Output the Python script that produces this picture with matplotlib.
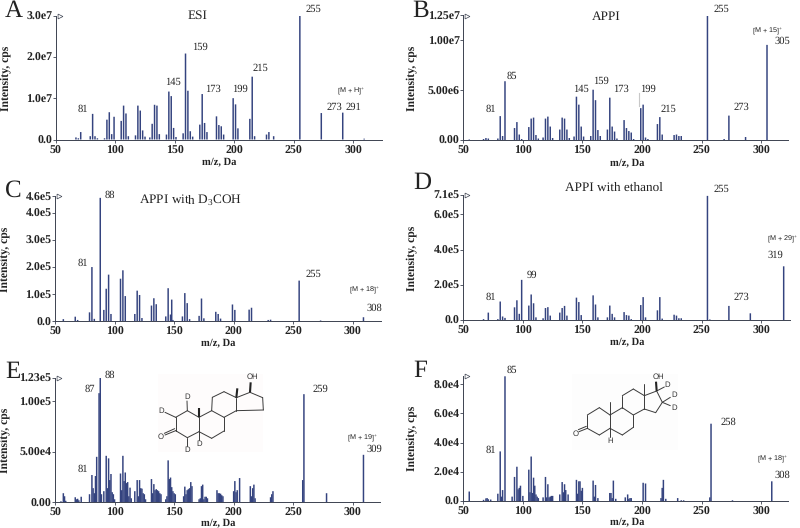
import matplotlib
matplotlib.use('Agg')
from matplotlib import pyplot as plt
from matplotlib.patches import Rectangle

plt.rcParams['font.family'] = ['Liberation Serif', 'DejaVu Serif']
plt.rcParams['mathtext.fontset'] = 'custom'
plt.rcParams['mathtext.rm'] = 'Liberation Serif'
plt.rcParams['text.hinting'] = 'none'

BAR = '#34437f'
AXIS = '#3c4250'
TEXT = '#222222'

# ---- peak lists, m/z and intensity
mz_a = [67, 69, 71, 79, 81, 83, 85, 91, 93, 95, 97, 99, 105, 107, 109, 111, 117, 119, 121, 123, 125, 129, 131, 133, 135, 137, 143, 145, 147, 149, 151, 157, 159, 161, 163, 165, 171, 173, 175, 177, 185, 187, 189, 191, 199, 201, 203, 213, 215, 217, 227, 229, 233, 255, 273, 291, 309]
int_a = [0.05, 0.03, 0.18, 0.08, 0.62, 0.08, 0.03, 0.03, 0.48, 0.66, 0.13, 0.55, 0.45, 0.82, 0.63, 0.08, 0.1, 0.82, 0.7, 0.22, 0.07, 0.05, 0.38, 0.84, 0.82, 0.13, 0.12, 1.16, 1.05, 0.28, 0.06, 0.15, 2.08, 1.18, 0.2, 0.07, 0.36, 1.1, 0.4, 0.18, 0.56, 0.35, 0.32, 0.12, 1.0, 0.85, 0.27, 0.5, 1.52, 0.08, 0.12, 0.18, 0.08, 3.0, 0.64, 0.65, 0.02]

mz_b = [55, 67, 69, 71, 79, 81, 83, 85, 93, 95, 97, 99, 105, 107, 109, 111, 113, 117, 119, 121, 123, 125, 131, 133, 135, 137, 139, 143, 145, 147, 149, 151, 157, 159, 161, 163, 165, 171, 173, 175, 177, 179, 185, 187, 189, 191, 193, 199, 201, 203, 205, 213, 215, 217, 227, 229, 231, 233, 255, 269, 273, 287, 305]
int_b = [0.05, 0.1, 0.2, 0.15, 0.15, 2.4, 0.4, 5.9, 1.2, 1.8, 0.55, 0.1, 1.3, 2.15, 2.25, 0.5, 0.15, 0.25, 2.15, 2.35, 1.35, 0.2, 1.05, 2.25, 2.15, 1.05, 0.2, 0.35, 4.35, 3.55, 1.35, 0.35, 0.4, 5.05, 4.0, 1.0, 0.4, 1.05, 4.25, 1.35, 0.85, 0.15, 2.0, 1.2, 0.9, 0.75, 0.1, 3.2, 3.55, 0.25, 0.1, 1.6, 2.3, 0.55, 0.5, 0.55, 0.4, 0.4, 12.45, 0.1, 2.45, 0.3, 9.55]

mz_c = [57, 67, 69, 79, 81, 83, 88, 91, 93, 95, 97, 105, 107, 109, 117, 119, 121, 123, 131, 133, 135, 143, 145, 147, 148, 149, 157, 159, 161, 163, 171, 173, 175, 185, 187, 189, 199, 201, 213, 215, 229, 231, 255, 273, 309]
int_c = [0.08, 0.17, 0.05, 0.33, 2.0, 0.09, 4.55, 0.42, 1.2, 1.72, 0.27, 1.57, 1.88, 0.93, 0.27, 1.13, 0.97, 0.12, 0.58, 0.85, 0.63, 0.18, 1.22, 0.25, 0.8, 0.05, 0.18, 1.04, 0.67, 0.08, 0.2, 0.84, 0.11, 0.35, 0.27, 0.1, 0.62, 0.42, 0.43, 0.5, 0.05, 0.06, 1.5, 0.03, 0.15]

mz_d = [67, 71, 79, 81, 83, 85, 93, 95, 97, 99, 105, 107, 109, 111, 117, 119, 121, 123, 131, 133, 135, 137, 145, 147, 149, 159, 161, 163, 171, 173, 175, 177, 185, 187, 189, 191, 199, 201, 203, 213, 215, 217, 227, 229, 231, 233, 255, 257, 273, 291, 319]
int_d = [0.05, 0.42, 0.05, 1.05, 0.2, 0.12, 0.72, 1.12, 0.35, 2.28, 0.82, 1.45, 0.95, 0.15, 0.1, 0.68, 0.73, 0.25, 0.42, 0.68, 0.8, 0.25, 1.27, 1.02, 0.28, 1.4, 0.88, 0.15, 0.15, 0.82, 0.35, 0.15, 0.45, 0.28, 0.25, 0.05, 0.85, 1.3, 0.15, 0.55, 1.3, 0.08, 0.3, 0.25, 0.1, 0.1, 7.05, 0.03, 0.8, 0.38, 3.05]

mz_e = [55, 57, 58, 59, 67, 68, 69, 70, 72, 79, 81, 82, 83, 84, 85, 87, 88, 89, 91, 93, 94, 95, 96, 97, 98, 99, 100, 105, 106, 107, 108, 109, 110, 111, 112, 113, 114, 117, 119, 120, 121, 122, 123, 124, 125, 126, 131, 132, 133, 134, 135, 136, 137, 138, 139, 143, 144, 145, 146, 147, 148, 149, 150, 151, 158, 159, 160, 161, 162, 163, 164, 165, 171, 172, 173, 174, 175, 176, 177, 178, 186, 187, 188, 189, 190, 191, 200, 201, 202, 203, 205, 214, 215, 216, 217, 218, 231, 232, 233, 258, 259, 278, 309]
int_e = [0.1, 0.9, 0.6, 0.15, 0.5, 0.3, 0.35, 0.2, 0.55, 0.8, 2.7, 1.4, 0.9, 2.6, 4.5, 10.8, 12.3, 0.8, 1.1, 4.6, 1.4, 4.35, 2.2, 2.8, 1.0, 0.8, 0.3, 2.85, 1.2, 4.6, 2.1, 2.95, 1.9, 2.0, 0.6, 1.45, 0.4, 1.1, 2.2, 0.6, 2.2, 1.4, 1.35, 0.9, 0.8, 0.3, 2.3, 0.9, 1.8, 1.2, 1.3, 1.2, 1.1, 0.9, 0.8, 0.3, 0.6, 4.15, 2.3, 2.45, 1.5, 1.1, 0.9, 0.8, 0.6, 1.55, 0.8, 1.2, 1.3, 1.4, 2.0, 1.6, 0.3, 0.4, 1.6, 1.75, 0.3, 0.55, 0.55, 0.4, 1.2, 0.9, 0.9, 0.85, 0.7, 0.6, 1.1, 2.1, 1.0, 1.2, 2.4, 1.6, 0.6, 1.4, 1.75, 0.4, 0.5, 0.8, 1.1, 2.2, 10.7, 0.9, 4.7]

mz_f = [55, 67, 69, 70, 71, 73, 79, 81, 82, 83, 85, 91, 93, 95, 96, 97, 98, 100, 105, 106, 107, 108, 109, 110, 111, 112, 113, 117, 119, 120, 121, 122, 123, 124, 125, 131, 133, 134, 135, 136, 138, 145, 146, 147, 148, 149, 150, 159, 160, 161, 163, 173, 174, 175, 176, 178, 186, 188, 189, 190, 191, 201, 203, 216, 217, 218, 220, 230, 233, 235, 257, 258, 276, 309]
int_f = [0.65, 0.08, 0.18, 0.2, 0.12, 0.1, 0.5, 3.4, 0.3, 0.75, 8.55, 0.3, 1.65, 2.35, 0.8, 0.9, 1.05, 0.35, 2.15, 0.6, 3.05, 0.55, 1.6, 1.05, 0.45, 0.3, 0.2, 0.25, 1.65, 0.25, 1.15, 0.25, 0.3, 0.35, 0.35, 0.45, 1.3, 0.6, 1.15, 0.75, 0.45, 1.45, 0.5, 1.35, 1.35, 0.7, 0.9, 1.4, 0.3, 1.1, 0.2, 0.55, 0.55, 0.2, 1.4, 0.15, 0.25, 0.45, 0.15, 0.2, 0.2, 1.25, 1.2, 0.2, 0.9, 1.45, 0.15, 0.2, 0.05, 0.05, 0.25, 5.3, 0.05, 1.35]

# ---- axis ticks
xticks = [50, 100, 150, 200, 250, 300]
xlabels = ['50', '100', '150', '200', '250', '300']
yticks_a = [0, 1, 2, 3]
ylabels_a = ['0.0', '1.0e7', '2.0e7', '3.0e7']
yticks_b = [0, 5, 10, 12.5]
ylabels_b = ['0.00', '5.00e6', '1.00e7', '1.25e7']
yticks_c = [0, 1, 2, 3, 4, 4.6]
ylabels_c = ['0.0', '1.0e5', '2.0e5', '3.0e5', '4.0e5', '4.6e5']
yticks_d = [0, 2, 4, 6, 7.1]
ylabels_d = ['0.0', '2.0e5', '4.0e5', '6.0e5', '7.1e5']
yticks_e = [0, 5, 10, 12.3]
ylabels_e = ['0.00', '5.00e4', '1.00e5', '1.23e5']
yticks_f = [0, 2, 4, 6, 8]
ylabels_f = ['0.0', '2.0e4', '4.0e4', '6.0e4', '8.0e4']

# left, right, top, bottom in image pixels, then the y value at the top
panels = [
    (mz_a, int_a, yticks_a, ylabels_a, (55.7, 381.5, 15.5, 139.5), 3.0),
    (mz_b, int_b, yticks_b, ylabels_b, (463.3, 788.0, 15.5, 140.0), 12.5),
    (mz_c, int_c, yticks_c, ylabels_c, (55.0, 380.5, 196.5, 321.3), 4.6),
    (mz_d, int_d, yticks_d, ylabels_d, (463.3, 790.0, 195.0, 320.0), 7.1),
    (mz_e, int_e, yticks_e, ylabels_e, (55.0, 380.0, 378.0, 502.3), 12.3),
    (mz_f, int_f, yticks_f, ylabels_f, (463.3, 788.0, 376.3, 501.0), 8.55),
]

W, H = 800, 528
PX_PER_DA = 1.191

fig = plt.figure(figsize=(W / 100, H / 100), dpi=100)

for mz, vals, yt, yl, box, ytop in panels:
    left, right, top, bottom = box
    ax = fig.add_axes([left / W, 1 - bottom / H, (right - left) / W, (bottom - top) / H])
    bars = ax.bar(mz, vals, width=1.25, color=BAR, linewidth=0)
    for b in bars:
        b.set_snap(False)
    ax.set_xlim(50, 50 + (right - left) / PX_PER_DA)
    ax.set_ylim(0, ytop)
    ax.set_xticks(xticks)
    ax.set_xticklabels(xlabels)
    ax.set_yticks(yt)
    ax.set_yticklabels(yl)
    ax.tick_params(axis='both', length=2, width=0.6, color=AXIS, labelsize=8.6, labelcolor=TEXT)
    ax.tick_params(axis='x', pad=2)
    ax.tick_params(axis='y', pad=0.5)
    for lab in ax.get_xticklabels() + ax.get_yticklabels():
        lab.set_fontweight('bold')
    ax.spines['top'].set_visible(False)
    ax.spines['right'].set_visible(False)
    ax.spines['left'].set_linewidth(0.7)
    ax.spines['bottom'].set_linewidth(0.7)
    ax.spines['left'].set_color(AXIS)
    ax.spines['bottom'].set_color(AXIS)
    # little triangle at the top of the y axis
    ax.plot([0.012], [1.0], marker='>', ms=3.5, mfc='white', mec=AXIS, mew=0.5,
            transform=ax.transAxes, clip_on=False)

# ---- everything else is placed in image pixels
over = fig.add_axes([0, 0, 1, 1], facecolor='none')
over.set_xlim(0, W)
over.set_ylim(H, 0)
over.axis('off')


def put(x, y, s, size=7.6, **kw):
    over.text(x, y, s, fontsize=size, ha='center', va='center', color=TEXT, **kw)


letters = [('A', 14, 11), ('B', 421, 11), ('C', 13, 191), ('D', 422, 183), ('E', 13, 372), ('F', 420, 371)]
for s, x, y in letters:
    put(x, y, s, size=18)

titles = [('ESI', 198, 16), ('APPI', 606, 17), ('APPI with D$_3$COH', 191, 200), ('APPI with ethanol', 614, 188)]
for s, x, y in titles:
    put(x, y, s, size=9.5)

peak_text = [
    ('81', 83, 109), ('145', 173, 82), ('159', 200, 47), ('173', 213, 89), ('199', 240, 89),
    ('215', 260, 68), ('255', 313, 9), ('273', 334, 107), ('291', 353, 107),
    ('81', 491, 109), ('85', 512, 76), ('145', 581, 89), ('159', 601, 81), ('173', 621, 89),
    ('199', 648, 89), ('215', 668, 109), ('255', 721, 9), ('273', 741, 107), ('305', 782, 41),
    ('81', 83, 263), ('88', 110, 195), ('255', 313, 274), ('308', 374, 308),
    ('81', 491, 297), ('99', 532, 275), ('255', 721, 189), ('273', 741, 297), ('319', 775, 255),
    ('81', 83, 469), ('87', 90, 389), ('88', 110, 375), ('259', 320, 389), ('309', 374, 449),
    ('81', 491, 450), ('85', 512, 370), ('258', 728, 422), ('308', 782, 475),
]
for s, x, y in peak_text:
    put(x, y, s)

ions = [('[M + H]', 351, 91), ('[M + 15]', 768, 31), ('[M + 18]', 365, 290),
        ('[M + 29]', 783, 239), ('[M + 19]', 363, 438), ('[M + 18]', 773, 459)]
for s, x, y in ions:
    over.text(x, y, s + '$^{+}$', fontsize=5.2, family='Liberation Sans', ha='center', va='center', color=TEXT)

for x, y in [(219, 162), (627, 163), (218, 343), (627, 342), (218, 523), (627, 522)]:
    put(x, y, 'm/z, Da', size=7.6, fontweight='bold')
for x, y in [(6, 78), (412, 78), (5, 259), (412, 258), (5, 440), (412, 438)]:
    put(x, y, 'Intensity, cps', size=8.4, fontweight='bold', rotation=90)

# grey scratch next to the 199 label in panel B
over.plot([639, 639], [93, 106], color='#c8c8c8', lw=0.8)

# faint backgrounds behind the two structures
over.add_patch(Rectangle((158, 374), 105, 78, facecolor='#fefcfc', edgecolor='none', zorder=0))
over.add_patch(Rectangle((572, 374), 106, 76, facecolor='#fdfdfd', edgecolor='none', zorder=0))


def mol(ox, oy, bonds, wedges, labels):
    # coordinates are from a 3x crop, so they get scaled back down here
    for (x0, y0), (x1, y1) in bonds:
        over.plot([ox + x0 / 3, ox + x1 / 3], [oy + y0 / 3, oy + y1 / 3], color='#3a3a3a', lw=0.7, solid_capstyle='round')
    for (x0, y0), (x1, y1) in wedges:
        over.plot([ox + x0 / 3, ox + x1 / 3], [oy + y0 / 3, oy + y1 / 3], color='#222222', lw=1.5, solid_capstyle='butt')
    for s, x, y in labels:
        over.text(ox + x / 3, oy + y / 3, s, fontsize=5.6, family='Liberation Sans', ha='center', va='center', color='#333333')


# 5-alpha steroid with D on ring A
c1, c10, c5, c4, c3, c2 = (112, 137), (147, 157), (147, 200), (112, 218), (77, 197), (77, 157)
c9, c8, c7, c6 = (185, 137), (222, 157), (222, 198), (185, 220)
c11, c12, c13, c14 = (187, 97), (222, 80), (259, 98), (259, 137)
c17, c16, c15 = (300, 82), (338, 98), (340, 135)
bonds_e = [(c1, c10), (c10, c5), (c5, c4), (c4, c3), (c3, c2), (c2, c1), (c10, c9), (c9, c8), (c8, c7), (c7, c6), (c6, c5),
           (c9, c11), (c11, c12), (c12, c13), (c13, c14), (c14, c8), (c13, c17), (c17, c16), (c16, c15), (c15, c14),
           (c1, (111, 108)), (c2, (45, 142)), (c4, (112, 243)), (c3, (45, 210)), ((74, 191), (43, 205)), (c5, (147, 224))]
wedges_e = [(c13, (262, 70)), (c10, (147, 130)), (c17, (302, 52))]
labels_e = [('OH', 308, 36), ('D', 110, 97), ('D', 33, 137), ('O', 32, 217), ('D', 110, 255), ('D', 148, 238)]
mol(150, 365, bonds_e, wedges_e, labels_e)

# steroid with D on ring D
a1, a2, a3, a4, a5, a6 = (67, 150), (103, 128), (135, 150), (135, 190), (103, 210), (67, 190)
b1, b2, b3, b4 = (172, 128), (205, 150), (205, 187), (172, 210)
d1, d2, d3, d4 = (172, 92), (205, 72), (238, 92), (238, 132)
e1, e2, e3 = (275, 78), (292, 112), (272, 143)
bonds_f = [(a1, a2), (a2, a3), (a3, a4), (a4, a5), (a5, a6), (a6, a1), (a3, b1), (b1, b2), (b2, b3), (b3, b4), (b4, a4),
           (b1, d1), (d1, d2), (d2, d3), (d3, d4), (d4, b2), (d3, e1), (e1, e2), (e2, e3), (e3, d4),
           (d3, (238, 57)), (a3, (135, 112)), (a6, (42, 200)), ((64, 184), (40, 194)), (e1, (298, 66)), (e2, (316, 97)), (e2, (316, 122)), (a4, (135, 215))]
wedges_f = [(e1, (273, 50))]
labels_f = [('OH', 280, 37), ('D', 307, 60), ('D', 326, 90), ('D', 326, 128), ('O', 32, 207), ('H', 135, 228)]
mol(565, 365, bonds_f, wedges_f, labels_f)

plt.savefig('out.png', dpi=100)
